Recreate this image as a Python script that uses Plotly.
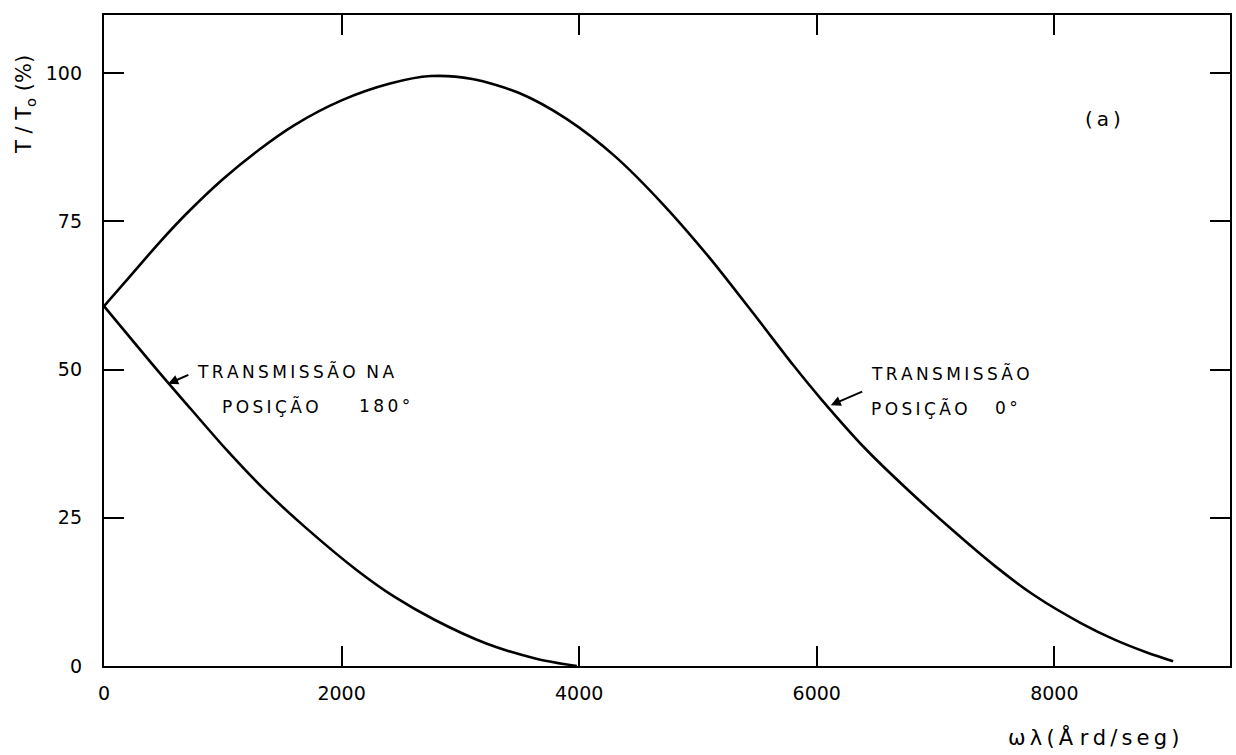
import plotly.graph_objects as go

# Transmission at position 0° (upper curve)
x_pos0 = [0, 235, 470, 700, 1000, 1300, 1600, 2000, 2400, 2750, 3100, 3500, 3900, 4300,
          4700, 5100, 5500, 5800, 6042, 6412, 6773, 7150, 7504, 7840, 8227, 8512, 8790, 9000]
t_pos0 = [60.7, 66.1, 71.5, 76.4, 82.1, 87.0, 91.2, 95.4, 98.2, 99.5, 99.0, 96.6, 92.2, 86.0,
          78.0, 68.8, 58.6, 50.8, 44.9, 36.6, 29.6, 22.8, 16.8, 11.8, 7.2, 4.4, 2.2, 0.8]

# Transmission at position 180° (lower curve)
x_pos180 = [0, 470, 664, 1034, 1353, 1700, 2126, 2450, 2782, 3218, 3647, 3980]
t_pos180 = [60.7, 49.4, 44.9, 36.4, 29.7, 23.3, 16.2, 11.6, 7.8, 3.8, 1.2, 0.0]

x_ticks = [0, 2000, 4000, 6000, 8000]
y_ticks = [0, 25, 50, 75, 100]

FONT = "DejaVu Sans"
TS = "\u2009"  # thin space used for the wide lettering


def spaced(word):
    return TS.join(word)


fig = go.Figure()
for xs, ys in ((x_pos0, t_pos0), (x_pos180, t_pos180)):
    fig.add_trace(go.Scatter(x=xs, y=ys, mode="lines",
                             line=dict(color="black", width=2.6, shape="spline", smoothing=0.8),
                             showlegend=False, hoverinfo="skip"))

axis_common = dict(showgrid=False, zeroline=False, showline=True, linecolor="black",
                   linewidth=2.4, mirror="ticks", ticks="inside", ticklen=20,
                   tickwidth=2.2, tickcolor="black",
                   tickfont=dict(family=FONT, size=19, color="black"))

fig.update_xaxes(range=[0, 9479], tickvals=x_ticks, ticktext=[str(v) for v in x_ticks],
                 ticklabelstandoff=9, **axis_common)
fig.update_yaxes(range=[0, 109.8], tickvals=y_ticks, ticktext=[str(v) for v in y_ticks],
                 ticklabelstandoff=16, **axis_common)

ann_font = dict(family=FONT, size=17, color="black")
annotations = [
    dict(text="T / T<sub>o</sub> (%)", xref="paper", yref="paper", x=-0.070, y=0.862,
         xanchor="center", yanchor="middle", showarrow=False, textangle=-90,
         font=dict(family=FONT, size=21, color="black")),
    dict(text=spaced("ωλ(Å") + " " + spaced("rd/seg)"), xref="paper", yref="paper",
         x=0.8785, y=-0.109, xanchor="center", yanchor="middle", showarrow=False,
         font=dict(family=FONT, size=21, color="black")),
    dict(text=spaced("(a)"), x=8412, y=92.2, showarrow=False,
         font=dict(family=FONT, size=20, color="black")),
    # label for the 180° curve
    dict(text=spaced("TRANSMISSÃO") + "&nbsp;&nbsp;" + spaced("NA"), x=765, y=49.7,
         xanchor="left", showarrow=False, font=ann_font),
    dict(text=spaced("POSIÇÃO"), x=975, y=43.8, xanchor="left", showarrow=False, font=ann_font),
    dict(text=spaced("180°"), x=2126, y=43.8, xanchor="left", showarrow=False, font=ann_font),
    # label for the 0° curve
    dict(text=spaced("TRANSMISSÃO"), x=6437, y=49.4, xanchor="left", showarrow=False, font=ann_font),
    dict(text=spaced("POSIÇÃO"), x=6437, y=43.5, xanchor="left", showarrow=False, font=ann_font),
    dict(text=spaced("0°"), x=7480, y=43.5, xanchor="left", showarrow=False, font=ann_font),
    # arrows pointing to each curve
    dict(x=540, y=47.6, ax=723, ay=49.2, axref="x", ayref="y", text="", showarrow=True,
         arrowhead=2, arrowsize=1, arrowwidth=2, arrowcolor="black"),
    dict(x=6118, y=44.0, ax=6395, ay=46.4, axref="x", ayref="y", text="", showarrow=True,
         arrowhead=2, arrowsize=1, arrowwidth=2, arrowcolor="black"),
]

fig.update_layout(width=1236, height=755, margin=dict(l=104, r=4, t=15, b=89),
                  paper_bgcolor="white", plot_bgcolor="white", annotations=annotations)

fig.write_html("out.html")
